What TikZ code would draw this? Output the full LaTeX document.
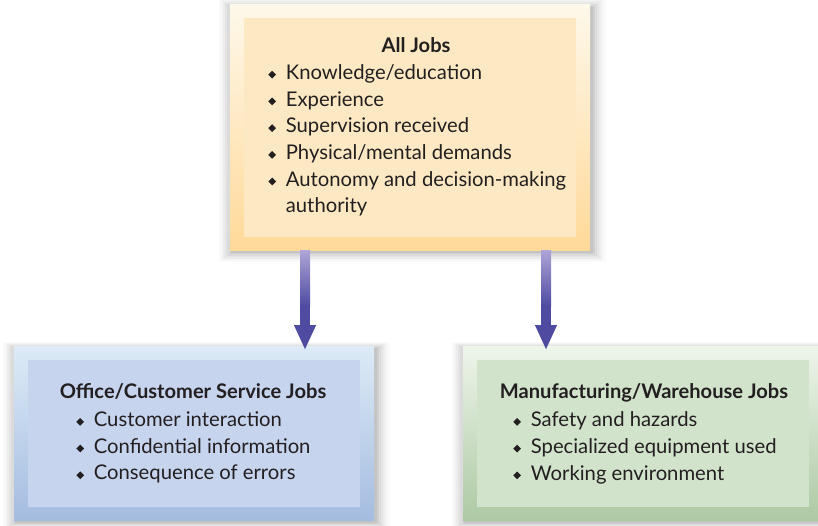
\documentclass[tikz,border=0pt]{standalone}
\usepackage{fontspec}
\setmainfont{Lato}
\usepackage{graphicx}
\usetikzlibrary{positioning,arrows.meta,calc,shadows}

\definecolor{ink}{HTML}{231F20}
\definecolor{allTop}{HTML}{FEF8EA}
\definecolor{allBot}{HTML}{FFD999}
\definecolor{allIn}{HTML}{FCE9C4}
\definecolor{offTop}{HTML}{DDEBF7}
\definecolor{offBot}{HTML}{A4BCE0}
\definecolor{offIn}{HTML}{C6D4EE}
\definecolor{manTop}{HTML}{EEF5EB}
\definecolor{manBot}{HTML}{ADC9A3}
\definecolor{manIn}{HTML}{D2E3CC}
\definecolor{arrowlight}{HTML}{AEA6D8}
\definecolor{arrowdark}{HTML}{4F4BA1}

\newcommand{\itm}{\raisebox{0.6pt}{\rotatebox{45}{\rule{3.9pt}{3.9pt}}}\hspace{7pt}}

\begin{document}
\begin{tikzpicture}[
  softshadow/.style={
    drop shadow={shadow xshift=0.05cm, shadow yshift=-0.06cm, shadow scale=1.075, opacity=0.02, fill=black},
    drop shadow={shadow xshift=0.05cm, shadow yshift=-0.06cm, shadow scale=1.062, opacity=0.025, fill=black},
    drop shadow={shadow xshift=0.05cm, shadow yshift=-0.06cm, shadow scale=1.05, opacity=0.03, fill=black},
    drop shadow={shadow xshift=0.05cm, shadow yshift=-0.06cm, shadow scale=1.038, opacity=0.035, fill=black},
    drop shadow={shadow xshift=0.05cm, shadow yshift=-0.06cm, shadow scale=1.026, opacity=0.04, fill=black},
    drop shadow={shadow xshift=0.05cm, shadow yshift=-0.06cm, shadow scale=1.014, opacity=0.05, fill=black},
    drop shadow={shadow xshift=0.05cm, shadow yshift=-0.06cm, shadow scale=1.004, opacity=0.06, fill=black}
  },
  frame/.style={minimum width=9cm, inner sep=0pt, outer sep=0pt, softshadow},
  panel/.style={minimum width=8.3cm, inner sep=0pt, outer sep=0pt},
  head/.style={font=\fontsize{14.3}{19}\selectfont\bfseries, text=ink, inner sep=0pt, anchor=base},
  items/.style={font=\fontsize{14.4}{19}\selectfont, text=ink, align=left, inner sep=0pt, anchor=north west},
  arr/.style={-{Triangle[width=0.5cm, length=0.62cm]}, line width=0.25cm, draw=arrowdark},
  fade/.style={top color=arrowlight, bottom color=arrowdark}
]

% --- cadre de la page
\path[use as bounding box, clip] (0,0) rectangle (20.45,13.125);

% --- All Jobs
\node[frame, minimum height=6.125cm, top color=allTop, bottom color=allBot] (AllF) at (10.25,9.9375) {};
\node[panel, minimum height=5.475cm, fill=allIn] (All) at (AllF.center) {};
\node[head] (AllT) at (10.4,11.8) {All Jobs};
\node[items] (AllL) at (6.7,11.52) {\itm Knowledge/education\\ \itm Experience\\ \itm Supervision received\\
  \itm Physical/mental demands\\ \itm Autonomy and decision-making\\ \hphantom{\itm}authority};

% --- Office/Customer Service Jobs
\node[frame, minimum height=4.35cm, top color=offTop, bottom color=offBot] (OffF) at (4.85,2.3) {};
\node[panel, minimum height=3.675cm, fill=offIn] (Off) at (OffF.center) {};
\node[head] (OffT) at (4.825,3.175) {Office/Customer Service Jobs};
\node[items] (OffL) at (1.9,2.84) {\itm Customer interaction\\ \itm Confidential information\\ \itm Consequence of errors};

% --- Manufacturing/Warehouse Jobs
\node[frame, minimum height=4.35cm, top color=manTop, bottom color=manBot] (ManF) at (16.075,2.3) {};
\node[panel, minimum height=3.675cm, fill=manIn] (Man) at (ManF.center) {};
\node[head] (ManT) at (16.1,3.175) {Manufacturing/Warehouse Jobs};
\node[items] (ManL) at (12.825,2.84) {\itm Safety and hazards\\ \itm Specialized equipment used\\ \itm Working environment};

% --- fleches
\coordinate (la) at (7.625,0);
\coordinate (ra) at (13.65,0);
\draw[arr, shorten >=-0.1cm] (AllF.south -| la) -- (OffF.north -| la);
\draw[arr, shorten >=-0.1cm] (AllF.south -| ra) -- (ManF.north -| ra);
\shade[fade] ($(AllF.south -| la)+(-0.125,0)$) rectangle ++(0.25,-1.4);
\shade[fade] ($(AllF.south -| ra)+(-0.125,0)$) rectangle ++(0.25,-1.4);

\end{tikzpicture}
\end{document}
